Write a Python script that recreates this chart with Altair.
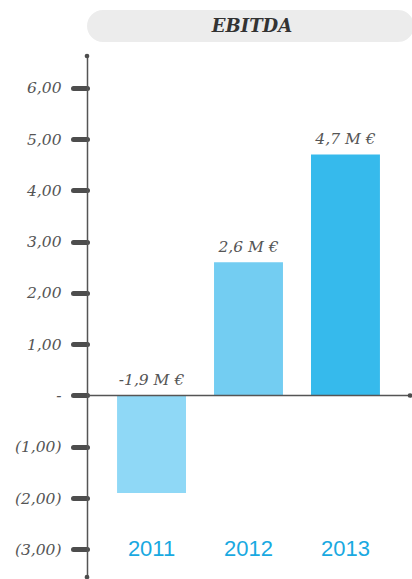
import altair as alt
import pandas as pd

# EBITDA by year, in millions of euros
years = ["2011", "2012", "2013"]
ebitda = [-1.9, 2.6, 4.7]
bar_colors = ["#8fd8f6", "#73cdf2", "#36baec"]
tick_values = [-3, -2, -1, 0, 1, 2, 3, 4, 5, 6]

Y_MIN, Y_MAX = -3.54, 6.62
W, H = 323, 521

df = pd.DataFrame({
    "year": years,
    "value": ebitda,
    "label": [f"{v:.1f}".replace(".", ",") + " M €" for v in ebitda],
    "label_y": [max(v, 0) for v in ebitda],
    "year_y": [-3] * len(years),
})

yscale = alt.Scale(domain=[Y_MIN, Y_MAX], nice=False, zero=False)
xenc = alt.X("year:N", sort=years, axis=None,
             scale=alt.Scale(paddingInner=0.289, paddingOuter=0.31))

label_expr = (
    "datum.value == 0 ? '-' : datum.value < 0 ? "
    "'(' + replace(format(-datum.value, '.2f'), '.', ',') + ')' : "
    "replace(format(datum.value, '.2f'), '.', ',')"
)

base = alt.Chart(df)

bars = base.mark_bar().encode(
    x=xenc,
    y=alt.Y("value:Q", scale=yscale, stack=None, title=None,
            axis=alt.Axis(values=tick_values, labelExpr=label_expr, grid=False,
                          domainColor="#555555", domainWidth=1.5,
                          tickColor="#4d4d4d", tickWidth=5, tickSize=14,
                          tickCap="round", labelFont="DejaVu Serif",
                          labelFontStyle="italic", labelFontSize=15.5,
                          labelColor="#555555", labelPadding=12)),
    y2=alt.datum(0),
    color=alt.Color("year:N", scale=alt.Scale(domain=years, range=bar_colors),
                    legend=None),
)

value_labels = base.mark_text(
    baseline="bottom", dy=-7, font="DejaVu Serif", fontStyle="italic",
    fontSize=15.5, color="#555555",
).encode(x=xenc, y=alt.Y("label_y:Q", scale=yscale), text="label:N")

year_labels = base.mark_text(
    baseline="middle", font="Liberation Sans", fontSize=22, color="#19a9e1",
).encode(x=xenc, y=alt.Y("year_y:Q", scale=yscale), text="year:N")

zero_line = alt.Chart(pd.DataFrame({"v": [0]})).mark_rule(
    color="#555555", strokeWidth=1.5
).encode(y=alt.Y("v:Q", scale=yscale), x=alt.value(0), x2=alt.value(W))

axis_dots = alt.Chart(pd.DataFrame({"v": [Y_MAX, Y_MIN]})).mark_point(
    filled=True, size=22, color="#4d4d4d", opacity=1
).encode(x=alt.value(0), y=alt.Y("v:Q", scale=yscale))

end_dot = alt.Chart(pd.DataFrame({"v": [0]})).mark_point(
    filled=True, size=22, color="#4d4d4d", opacity=1
).encode(x=alt.value(W), y=alt.Y("v:Q", scale=yscale))

header = alt.Chart(pd.DataFrame({"t": ["EBITDA"]}))
pill = header.mark_rect(cornerRadius=16, color="#ececec").encode(
    x=alt.value(0), x2=alt.value(327), y=alt.value(-46), y2=alt.value(-14)
)
title = header.mark_text(
    font="DejaVu Serif", fontStyle="italic", fontWeight="bold", fontSize=18,
    color="#333333", baseline="middle",
).encode(x=alt.value(165), y=alt.value(-29), text="t:N")

chart = alt.layer(
    pill, title, bars, zero_line, value_labels, year_labels, axis_dots, end_dot
).properties(
    width=W, height=H,
    autosize=alt.AutoSizeParams(type="none"),
    padding={"left": 87, "top": 56, "right": 2, "bottom": 2},
).configure_view(stroke=None)

chart.save("out.html", embed_options={"renderer": "svg", "actions": False})
